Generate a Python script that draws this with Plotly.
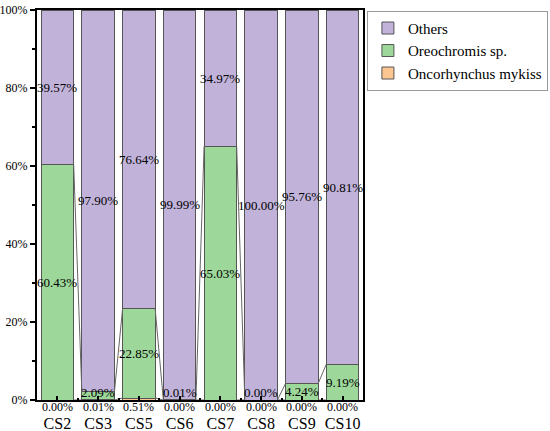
import plotly.graph_objects as go

SAMPLES = ["CS2", "CS3", "CS5", "CS6", "CS7", "CS8", "CS9", "CS10"]
ONCORHYNCHUS = [0.00, 0.01, 0.51, 0.00, 0.00, 0.00, 0.00, 0.00]
OREOCHROMIS = [60.43, 2.09, 22.85, 0.01, 65.03, 0.00, 4.24, 9.19]
OTHERS = [39.57, 97.90, 76.64, 99.99, 34.97, 100.00, 95.76, 90.81]
Y_TICKS = [0, 20, 40, 60, 80, 100]
Y_TICK_TEXT = ["0%", "20%", "40%", "60%", "80%", "100%"]

FONT = "Liberation Serif"
BAR_W = 0.8
EDGE = "#555555"

series = [
    ("Oncorhynchus mykiss", ONCORHYNCHUS, "#fdc592"),
    ("Oreochromis sp.", OREOCHROMIS, "#9dd79a"),
    ("Others", OTHERS, "#c1b2d9"),
]

x = list(range(len(SAMPLES)))
fig = go.Figure()

# stacked bars, keep cumulative tops for connectors and label placement
bottoms = [0.0] * len(x)
stack = []
for name, vals, color in series:
    tops = [b + v for b, v in zip(bottoms, vals)]
    stack.append((name, vals, bottoms, tops))
    fig.add_trace(go.Bar(
        x=x, y=vals, name=name, width=BAR_W,
        marker=dict(color=color, line=dict(color=EDGE, width=1)),
        hoverinfo="skip",
    ))
    bottoms = tops

# Origin-style connect lines between neighbouring bars
cx, cy = [], []
for name, vals, lo, hi in stack[:-1]:
    for i in range(len(x) - 1):
        cx += [x[i] + BAR_W / 2, x[i + 1] - BAR_W / 2, None]
        cy += [hi[i], hi[i + 1], None]
fig.add_trace(go.Scatter(
    x=cx, y=cy, mode="lines", line=dict(color="#666666", width=1),
    hoverinfo="skip", showlegend=False,
))

annotations = []
# Others + Oreochromis labels sit inside their segment
for name, vals, lo, hi in stack[1:]:
    for i, v in enumerate(vals):
        mid = max((lo[i] + hi[i]) / 2, 2.0)
        annotations.append(dict(
            x=x[i], y=mid, text=f"{v:.2f}%", showarrow=False,
            font=dict(family=FONT, size=13, color="black"),
        ))
# Oncorhynchus labels sit just under the axis
for i, v in enumerate(ONCORHYNCHUS):
    annotations.append(dict(
        x=x[i], y=0, yanchor="top", yshift=2, text=f"{v:.2f}%",
        showarrow=False, font=dict(family=FONT, size=12, color="black"),
    ))

fig.update_layout(
    template="none",
    barmode="stack",
    width=550, height=431,
    margin=dict(l=37, r=187, t=10, b=31, autoexpand=False),
    paper_bgcolor="white", plot_bgcolor="white",
    font=dict(family=FONT, color="black"),
    annotations=annotations,
    legend=dict(
        x=1.012, y=0.998, xanchor="left", yanchor="top",
        traceorder="reversed", bordercolor="#999999", borderwidth=1,
        bgcolor="white", font=dict(family=FONT, size=15), tracegroupgap=0,
    ),
    xaxis=dict(
        range=[-0.5, len(x) - 0.5], tickvals=x, ticktext=SAMPLES,
        showline=True, linecolor="black", linewidth=2, mirror=True,
        ticks="inside", ticklen=4, tickwidth=2, tickcolor="black",
        ticklabelstandoff=8, tickfont=dict(family=FONT, size=16),
        minor=dict(ticks="inside", ticklen=2, tick0=0.5, dtick=1, tickcolor="black"),
        showgrid=False, zeroline=False, automargin=False,
    ),
    yaxis=dict(
        range=[0, 100], tickvals=Y_TICKS, ticktext=Y_TICK_TEXT,
        showline=True, linecolor="black", linewidth=2, mirror=True,
        ticks="outside", ticklen=5, tickwidth=2, tickcolor="black",
        tickfont=dict(family=FONT, size=12),
        minor=dict(ticks="outside", ticklen=3, dtick=10, tick0=0, tickcolor="black"),
        showgrid=False, zeroline=False, automargin=False,
    ),
)

# drop the default page margin so the figure sits at the window corner
fig.write_html(
    "out.html",
    config={"displayModeBar": False},
    post_script="document.body.style.margin = '0';",
)
